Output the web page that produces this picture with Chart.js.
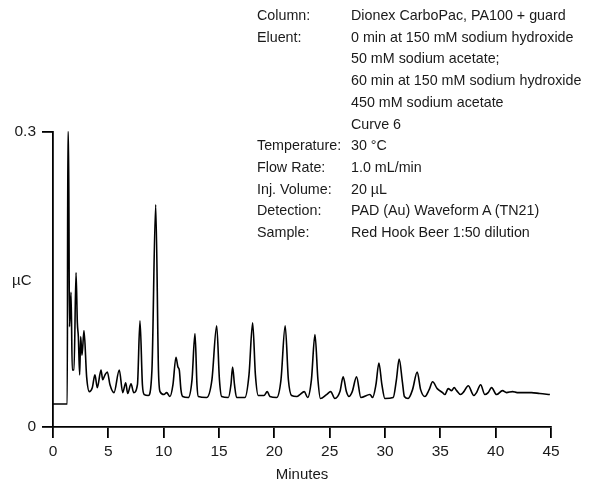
<!DOCTYPE html>
<html>
<head>
<meta charset="utf-8">
<script src="https://cdn.jsdelivr.net/npm/chart.js@4.4.0/dist/chart.umd.min.js"></script>
<style>
  body { margin: 0; background: #fff; }
  #wrap { position: relative; width: 590px; height: 485px; font-family: "Liberation Sans", Arial, sans-serif; color: #1a1a1a; }
  #chart { position: absolute; left: 0; top: 0; }
  #conditions { position: absolute; left: 257px; top: 5px; font-size: 14.3px; line-height: 21.7px; }
  #conditions .row { display: flex; white-space: nowrap; }
  #conditions .lbl { width: 94px; }
  #yTitle { position: absolute; left: 12px; top: 272px; font-size: 15px; line-height: 16px; }
</style>
</head>
<body>
<div id="wrap">
  <canvas id="chart" width="590" height="485"></canvas>
  <div id="yTitle">µC</div>
  <div id="conditions"></div>
</div>
<script>
// retention time (min) and detector response (µC)
const times = [
  0, 1.29, 1.34, 1.40, 1.49, 1.63, 1.74, 1.90, 2.08, 2.20, 2.29, 2.41, 2.50, 2.62, 2.80, 3.04, 3.28, 3.55, 3.79, 4.00,
  4.34, 4.49, 4.70, 4.91, 5.15, 5.51, 5.99, 6.30, 6.57, 6.75, 7.05, 7.29, 7.63, 7.86, 8.08, 8.25, 8.61, 8.94, 9.28, 9.53,
  9.67, 10.03, 10.27, 10.57, 10.84, 11.11, 11.29, 11.41, 11.56, 11.72, 12.22, 12.56, 12.83, 13.01, 13.13, 13.88, 14.36, 14.79, 15.04, 15.24,
  15.84, 16.08, 16.23, 16.40, 16.59, 17.34, 17.71, 18.04, 18.29, 18.55, 19.06, 19.36, 19.60, 20.21, 20.60, 20.98, 21.27, 21.56, 22.04, 22.31,
  22.70, 23.01, 23.35, 23.67, 23.94, 24.16, 24.72, 25.09, 25.47, 25.93, 26.22, 26.51, 26.74, 27.04, 27.43, 27.82, 28.64, 28.88, 29.18, 29.45,
  29.72, 29.99, 30.74, 31.03, 31.28, 31.57, 31.75, 32.09, 32.49, 32.91, 33.22, 33.60, 33.99, 34.30, 34.72, 35.20, 35.41, 35.71, 36.02, 36.25,
  36.47, 36.83, 37.13, 37.52, 38.03, 38.27, 38.64, 39.02, 39.32, 39.63, 40.08, 40.62, 40.98, 41.53, 41.94, 43.24, 43.99, 44.90
];
const response = [
  0.0234, 0.0234, 0.300, 0.300, 0.102, 0.137, 0.058, 0.058, 0.157, 0.106, 0.092, 0.053, 0.092, 0.073, 0.098, 0.051, 0.036, 0.040, 0.053, 0.040,
  0.058, 0.048, 0.053, 0.056, 0.043, 0.035, 0.058, 0.035, 0.045, 0.034, 0.044, 0.035, 0.043, 0.108, 0.043, 0.033, 0.032, 0.058, 0.226, 0.058,
  0.036, 0.033, 0.035, 0.031, 0.043, 0.071, 0.061, 0.058, 0.038, 0.031, 0.030, 0.048, 0.095, 0.043, 0.031, 0.030, 0.048, 0.103, 0.048, 0.031,
  0.030, 0.043, 0.061, 0.043, 0.030, 0.030, 0.053, 0.106, 0.053, 0.032, 0.032, 0.036, 0.031, 0.030, 0.048, 0.103, 0.048, 0.032, 0.031, 0.033,
  0.036, 0.030, 0.048, 0.094, 0.048, 0.029, 0.033, 0.036, 0.029, 0.036, 0.051, 0.036, 0.031, 0.036, 0.051, 0.030, 0.033, 0.030, 0.043, 0.065,
  0.043, 0.029, 0.030, 0.048, 0.069, 0.046, 0.031, 0.029, 0.038, 0.056, 0.038, 0.031, 0.038, 0.046, 0.039, 0.035, 0.033, 0.039, 0.037, 0.040,
  0.037, 0.033, 0.036, 0.042, 0.032, 0.035, 0.043, 0.033, 0.035, 0.040, 0.033, 0.037, 0.035, 0.036, 0.035, 0.035, 0.034, 0.033
];

const xTicks = [0, 5, 10, 15, 20, 25, 30, 35, 40, 45];
const yTicks = [0, 0.3];

const condLabels = ['Column:', 'Eluent:', '', '', '', '', 'Temperature:', 'Flow Rate:', 'Inj. Volume:', 'Detection:', 'Sample:'];
const condValues = [
  'Dionex CarboPac, PA100 + guard',
  '0 min at 150 mM sodium hydroxide',
  '50 mM sodium acetate;',
  '60 min at 150 mM sodium hydroxide',
  '450 mM sodium acetate',
  'Curve 6',
  '30 °C',
  '1.0 mL/min',
  '20 µL',
  'PAD (Au) Waveform A (TN21)',
  'Red Hook Beer 1:50 dilution'
];

const cond = document.getElementById('conditions');
condLabels.forEach((lbl, i) => {
  const row = document.createElement('div');
  row.className = 'row';
  row.innerHTML = '<span class="lbl"></span><span class="val"></span>';
  row.children[0].textContent = lbl;
  row.children[1].textContent = condValues[i];
  cond.appendChild(row);
});

Chart.defaults.font.family = '"Liberation Sans", Arial, sans-serif';
Chart.defaults.color = '#1a1a1a';

const axisGrid = {
  drawOnChartArea: false,
  drawTicks: true,
  tickLength: 11,
  color: '#000',
  lineWidth: 1.8
};

new Chart(document.getElementById('chart'), {
  type: 'line',
  data: {
    datasets: [{
      data: times.map((t, i) => ({ x: t, y: response[i] })),
      borderColor: '#000',
      borderWidth: 1.6,
      pointRadius: 0,
      fill: false,
      cubicInterpolationMode: 'monotone',
      clip: 6
    }]
  },
  options: {
    responsive: false,
    animation: false,
    layout: { padding: { left: 0, right: 39, top: 132, bottom: 0 } },
    plugins: { legend: { display: false }, tooltip: { enabled: false } },
    scales: {
      x: {
        type: 'linear',
        min: 0,
        max: 45,
        afterBuildTicks: s => { s.ticks = xTicks.map(v => ({ value: v })); },
        afterFit: s => { s.height = 58; },
        grid: axisGrid,
        border: { color: '#000', width: 1.8 },
        ticks: { font: { size: 15.5 }, padding: 4, maxRotation: 0 },
        title: { display: true, text: 'Minutes', font: { size: 15 }, padding: { top: 2, bottom: 1 } }
      },
      y: {
        min: 0,
        max: 0.3,
        afterBuildTicks: s => { s.ticks = yTicks.map(v => ({ value: v })); },
        afterFit: s => { s.width = 53; },
        grid: axisGrid,
        border: { color: '#000', width: 1.8 },
        ticks: { font: { size: 15.5 }, padding: 6, callback: v => String(v) }
      }
    }
  }
});
</script>
</body>
</html>
